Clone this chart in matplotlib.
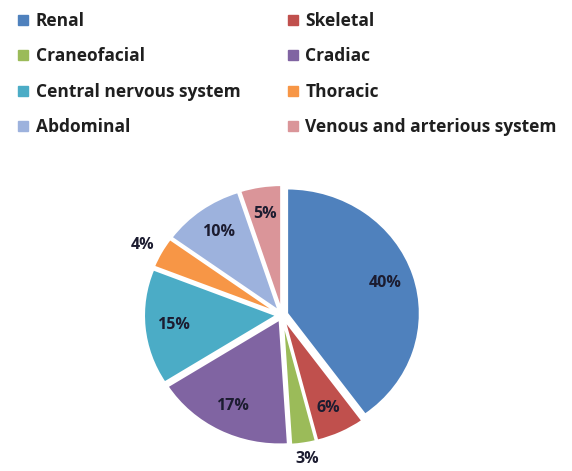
import numpy as np
import matplotlib.pyplot as plt
from matplotlib.lines import Line2D

categories = ['Renal', 'Skeletal', 'Craneofacial', 'Cradiac', 'Central nervous system',
              'Thoracic', 'Abdominal', 'Venous and arterious system']
shares = [40, 6, 3, 17, 15, 4, 10, 5]
colors = ['#4F81BD', '#C0504D', '#9BBB59', '#8064A2', '#4BACC6', '#F79646', '#9DB2DD', '#DA9599']
outside = ['Craneofacial', 'Thoracic']

plt.rcParams['font.family'] = ['Open Sans', 'DejaVu Sans']

fig = plt.figure(figsize=(5.72, 4.71), dpi=100)
ax = fig.add_axes([0.2308, 0.0127, 0.5245, 0.637])

wedges, texts, autotexts = ax.pie(shares, colors=colors, startangle=90, counterclock=False,
                                  explode=[0.04] * len(shares),
                                  autopct='%1.0f%%', pctdistance=0.78,
                                  wedgeprops=dict(edgecolor='white', linewidth=1.5),
                                  textprops=dict(fontsize=11.5, fontweight='bold', color='#1c1c30'))
for cat, t in zip(categories, autotexts):
    if cat in outside:
        x, y = t.get_position()
        r = np.hypot(x, y)
        t.set_position((x / r * 1.2, y / r * 1.17))
ax.set_aspect('auto')
ax.set_xlim(-1.13, 1.13)
ax.set_ylim(-1.2, 1.2)
ax.set_axis_off()

handles = [Line2D([], [], marker='s', linestyle='', markersize=6.5, color=c) for c in colors]
order = [0, 2, 4, 6, 1, 3, 5, 7]
fig.legend([handles[i] for i in order], [categories[i] for i in order], ncol=2,
           loc='upper left', bbox_to_anchor=(0.003, 1.008), frameon=False,
           prop=dict(size=12.5, weight='bold'), handlelength=0.7, handletextpad=0.35,
           labelspacing=1.0, columnspacing=2.7, labelcolor='#1f1f1f')

fig.savefig('out.png', dpi=100)
